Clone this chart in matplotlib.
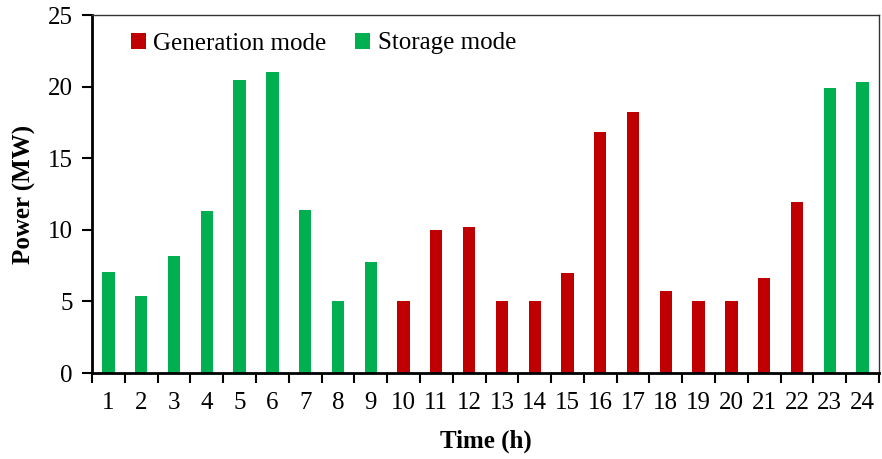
import numpy as np
import matplotlib
matplotlib.use('Agg')
import matplotlib.pyplot as plt

hours = list(range(1, 25))
power = [7.05, 5.4, 8.2, 11.3, 20.45, 21.0, 11.35, 5.0, 7.75, 5.0, 10.0, 10.2,
         5.0, 5.0, 7.0, 16.85, 18.25, 5.7, 5.0, 5.0, 6.65, 11.95, 19.9, 20.35]
modes = ['S', 'S', 'S', 'S', 'S', 'S', 'S', 'S', 'S', 'G', 'G', 'G',
         'G', 'G', 'G', 'G', 'G', 'G', 'G', 'G', 'G', 'G', 'S', 'S']

plt.rcParams['font.family'] = ['Liberation Serif', 'DejaVu Serif']

gen_color = '#C00000'
sto_color = '#00B050'

fig = plt.figure(figsize=(8.82, 4.59), dpi=100)
ax = fig.add_axes([92 / 882, 1 - 373 / 459, (879 - 92) / 882, (373 - 15) / 459])

x = np.array(hours)
gen = [p if m == 'G' else 0 for p, m in zip(power, modes)]
sto = [p if m == 'S' else 0 for p, m in zip(power, modes)]
ax.bar(x, gen, width=0.375, color=gen_color, label='Generation mode')
ax.bar(x, sto, width=0.375, color=sto_color, label='Storage mode')

ax.set_xlim(0.5, 24.5)
ax.set_ylim(0, 25)
ax.set_yticks(range(0, 26, 5))
ax.set_xticks(x)
ax.set_xticklabels([str(h) for h in hours])
ax.tick_params(axis='x', length=0, labelsize=18, pad=14)
# tick marks sit between the hours
ax.set_xticks(np.arange(0.5, 25, 1), minor=True)
ax.tick_params(axis='x', which='minor', direction='out', length=7, width=1.5)
ax.tick_params(axis='y', direction='out', length=7, width=1.5, labelsize=18, pad=7)

for side in ['left', 'bottom']:
    ax.spines[side].set_linewidth(2)
for side in ['top', 'right']:
    ax.spines[side].set_linewidth(1)
    ax.spines[side].set_color('#333333')

ax.set_ylabel('Power (MW)', fontsize=18, fontweight='bold', labelpad=8)
ax.set_xlabel('Time (h)', fontsize=18, fontweight='bold', labelpad=11)

ax.legend(loc='upper left', ncol=2, frameon=False, fontsize=18,
          handlelength=0.6, handleheight=0.6, handletextpad=0.3,
          columnspacing=1.15, borderaxespad=0.3, bbox_to_anchor=(0.027, 1.0))

fig.savefig('out.png', dpi=100)
